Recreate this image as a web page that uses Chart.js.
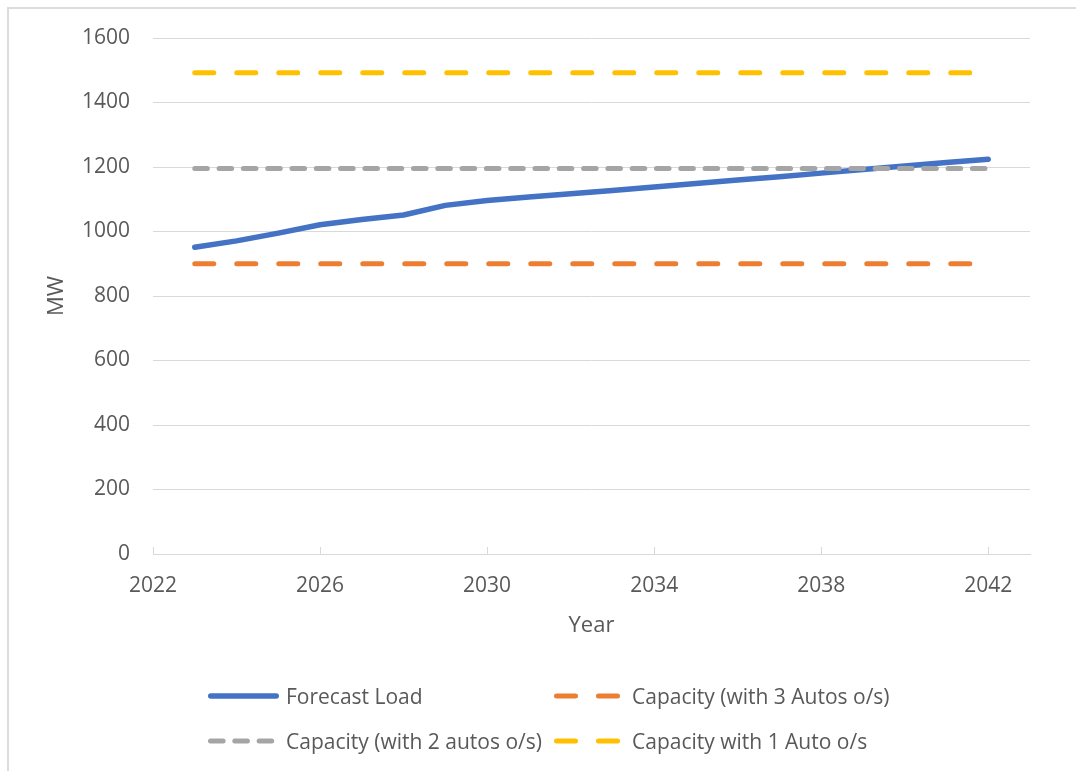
<!DOCTYPE html>
<html>
<head>
<meta charset="utf-8">
<title>Forecast Load vs Capacity</title>
<script src="https://cdn.jsdelivr.net/npm/chart.js@4.4.1/dist/chart.umd.min.js"></script>
<style>
  html,body{margin:0;padding:0;background:#fff;overflow:hidden}
  #wrap{position:relative;width:1076px;height:771px}
  #frame{position:absolute;left:7px;top:7px;width:1200px;height:900px;border:2px solid #dcdcdc}
  canvas{position:absolute;left:0;top:0}
  #legend{position:absolute;left:0;top:0;width:1076px;height:771px;pointer-events:none;
    font-family:'Open Sans',sans-serif;font-size:21px;color:#595959}
  .item{position:absolute;height:30px;line-height:30px;white-space:nowrap}
  .item svg{position:absolute;left:0;top:0}
</style>
</head>
<body>
<div id="wrap">
  <div id="frame"></div>
  <canvas id="chart" width="1076" height="771"></canvas>
  <div id="legend"></div>
</div>
<script>
// data
const years = [2023, 2024, 2025, 2026, 2027, 2028, 2029, 2030, 2031, 2032,
               2033, 2034, 2035, 2036, 2037, 2038, 2039, 2040, 2041, 2042];
const forecastLoad = [951, 971, 995, 1021, 1037, 1051, 1081, 1096, 1107, 1117,
                      1127, 1138, 1149, 1160, 1170, 1181, 1192, 1203, 1214, 1224];
const capacity3Autos = [900, 900, 900, 900, 900, 900, 900, 900, 900, 900,
                        900, 900, 900, 900, 900, 900, 900, 900, 900, 900];
const capacity2Autos = [1195, 1195, 1195, 1195, 1195, 1195, 1195, 1195, 1195, 1195,
                        1195, 1195, 1195, 1195, 1195, 1195, 1195, 1195, 1195, 1195];
const capacity1Auto = [1492, 1492, 1492, 1492, 1492, 1492, 1492, 1492, 1492, 1492,
                       1492, 1492, 1492, 1492, 1492, 1492, 1492, 1492, 1492, 1492];
const xTicks = [2022, 2026, 2030, 2034, 2038, 2042];
const yTicks = [0, 200, 400, 600, 800, 1000, 1200, 1400, 1600];

const TEXT = '#595959';
const GRID = '#d9d9d9';

const pts = vals => years.map((y, i) => ({x: y, y: vals[i]}));

const series = [
  {label: 'Forecast Load', data: forecastLoad, color: '#4472c4', width: 5.5, dash: [], order: 4},
  {label: 'Capacity (with 3 Autos o/s)', data: capacity3Autos, color: '#ed7d31', width: 5, dash: [19, 23], order: 3},
  {label: 'Capacity (with 2 autos o/s)', data: capacity2Autos, color: '#a5a5a5', width: 5, dash: [12.6, 11.7], order: 2},
  {label: 'Capacity with 1 Auto o/s', data: capacity1Auto, color: '#ffc000', width: 5, dash: [19, 23], order: 1}
];

Chart.defaults.font.family = "'Open Sans', sans-serif";
Chart.defaults.font.size = 21;
Chart.defaults.color = TEXT;

// Excel style tick marks pointing up into the plot
const insideTicks = {
  id: 'insideTicks',
  beforeDatasetsDraw(chart){
    const {ctx, chartArea, scales:{x}} = chart;
    ctx.save();
    ctx.strokeStyle = GRID;
    ctx.lineWidth = 1;
    x.ticks.forEach(t => {
      const px = Math.round(x.getPixelForValue(t.value)) + 0.5;
      ctx.beginPath();
      ctx.moveTo(px, chartArea.bottom);
      ctx.lineTo(px, chartArea.bottom - 7);
      ctx.stroke();
    });
    ctx.restore();
  }
};

const chart = new Chart(document.getElementById('chart'), {
  type: 'line',
  data: {
    datasets: series.map(s => ({
      label: s.label,
      data: pts(s.data),
      borderColor: s.color,
      backgroundColor: s.color,
      borderWidth: s.width,
      borderDash: s.dash,
      borderCapStyle: 'round',
      borderJoinStyle: 'round',
      pointRadius: 0,
      tension: 0,
      fill: false,
      order: s.order
    }))
  },
  options: {
    responsive: false,
    animation: false,
    layout: {padding: {top: 38, right: 46, bottom: 0, left: 0}},
    plugins: {legend: {display: false}, tooltip: {enabled: false}},
    scales: {
      x: {
        type: 'linear',
        min: 2022,
        max: 2043,
        afterBuildTicks: s => { s.ticks = xTicks.map(v => ({value: v})); },
        afterFit: s => { s.height = 217; },
        grid: {display: false, drawTicks: false},
        border: {display: true, color: GRID, width: 1},
        ticks: {padding: 19, callback: v => String(v)},
        title: {display: true, text: 'Year', font: {size: 22}, padding: {top: 0, bottom: 132}}
      },
      y: {
        min: 0,
        max: 1600,
        afterBuildTicks: s => { s.ticks = yTicks.map(v => ({value: v})); },
        afterFit: s => { s.width = 153; },
        grid: {color: GRID, lineWidth: 1, drawTicks: false},
        border: {display: false},
        ticks: {padding: 23, callback: v => String(v)},
        title: {display: true, text: 'MW', font: {size: 22}, padding: {top: 44, bottom: 0}}
      }
    }
  },
  plugins: [insideTicks]
});

// legend laid out in two columns like the original
const legendPos = [
  {x: 208, y: 681, textX: 286},
  {x: 554, y: 681, textX: 632},
  {x: 208, y: 726, textX: 286},
  {x: 554, y: 726, textX: 632}
];
const legendEl = document.getElementById('legend');
const legendOrder = [0, 1, 2, 3];
legendOrder.forEach((idx, k) => {
  const s = series[idx];
  const p = legendPos[k];
  const item = document.createElement('div');
  item.className = 'item';
  item.style.left = p.x + 'px';
  item.style.top = p.y + 'px';
  const cap = s.width / 2;
  let len = 71 - s.width;
  if (s.dash.length) {
    const n = idx === 2 ? 3 : 2;
    len = s.dash[0] * n + s.dash[1] * (n - 1);
  }
  const svgNS = 'http://www.w3.org/2000/svg';
  const svg = document.createElementNS(svgNS, 'svg');
  svg.setAttribute('width', 80);
  svg.setAttribute('height', 30);
  const ln = document.createElementNS(svgNS, 'line');
  ln.setAttribute('x1', cap);
  ln.setAttribute('x2', cap + len);
  ln.setAttribute('y1', 15);
  ln.setAttribute('y2', 15);
  ln.setAttribute('stroke', s.color);
  ln.setAttribute('stroke-width', s.width);
  ln.setAttribute('stroke-linecap', 'round');
  if (s.dash.length) ln.setAttribute('stroke-dasharray', s.dash.join(' '));
  svg.appendChild(ln);
  item.appendChild(svg);
  const txt = document.createElement('span');
  txt.textContent = s.label;
  txt.style.position = 'absolute';
  txt.style.left = (p.textX - p.x) + 'px';
  txt.style.top = '0px';
  item.appendChild(txt);
  legendEl.appendChild(item);
});
</script>
</body>
</html>
